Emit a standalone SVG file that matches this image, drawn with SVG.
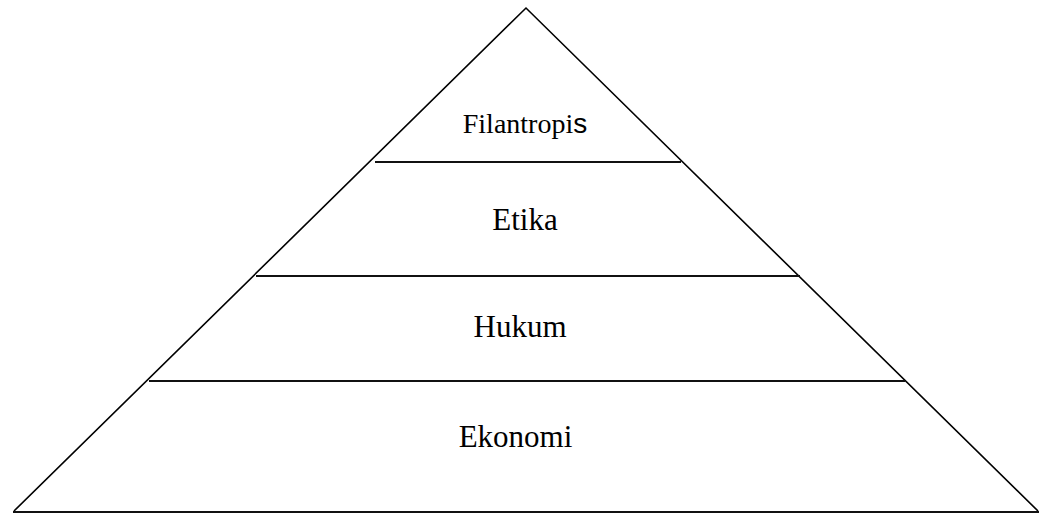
<svg xmlns="http://www.w3.org/2000/svg" width="1042" height="514" viewBox="0 0 1042 514">
<style>
.edge{fill:none;stroke:#000;stroke-width:1.6;stroke-linejoin:miter}
.div{stroke:#111;stroke-width:2;fill:none}
.lbl{font-family:"Liberation Serif","Times New Roman",serif;font-size:31px;fill:#000;text-anchor:middle}
</style>
<rect width="1042" height="514" fill="#fff"/>
<g id="pyramid">
<polyline class="edge" points="14,511 526,8 1038,511"/>
</g>
<g id="connectors">
<line class="div" x1="375" y1="162" x2="681" y2="162"/>
<line class="div" x1="256" y1="276" x2="800" y2="276"/>
<line class="div" x1="149" y1="381" x2="905" y2="381"/>
<line class="div" x1="13" y1="512" x2="1039" y2="512"/>
</g>
<g id="filantropis">
<text class="lbl" x="525" y="133" style="font-size:28px">Filantropi<tspan style="font-family:'Liberation Sans',Arial,sans-serif">s</tspan></text>
</g>
<g id="etika">
<text class="lbl" x="525" y="230">Etika</text>
</g>
<g id="hukum">
<text class="lbl" x="520" y="337">Hukum</text>
</g>
<g id="ekonomi">
<text class="lbl" x="515.5" y="447">Ekonomi</text>
</g>
</svg>
